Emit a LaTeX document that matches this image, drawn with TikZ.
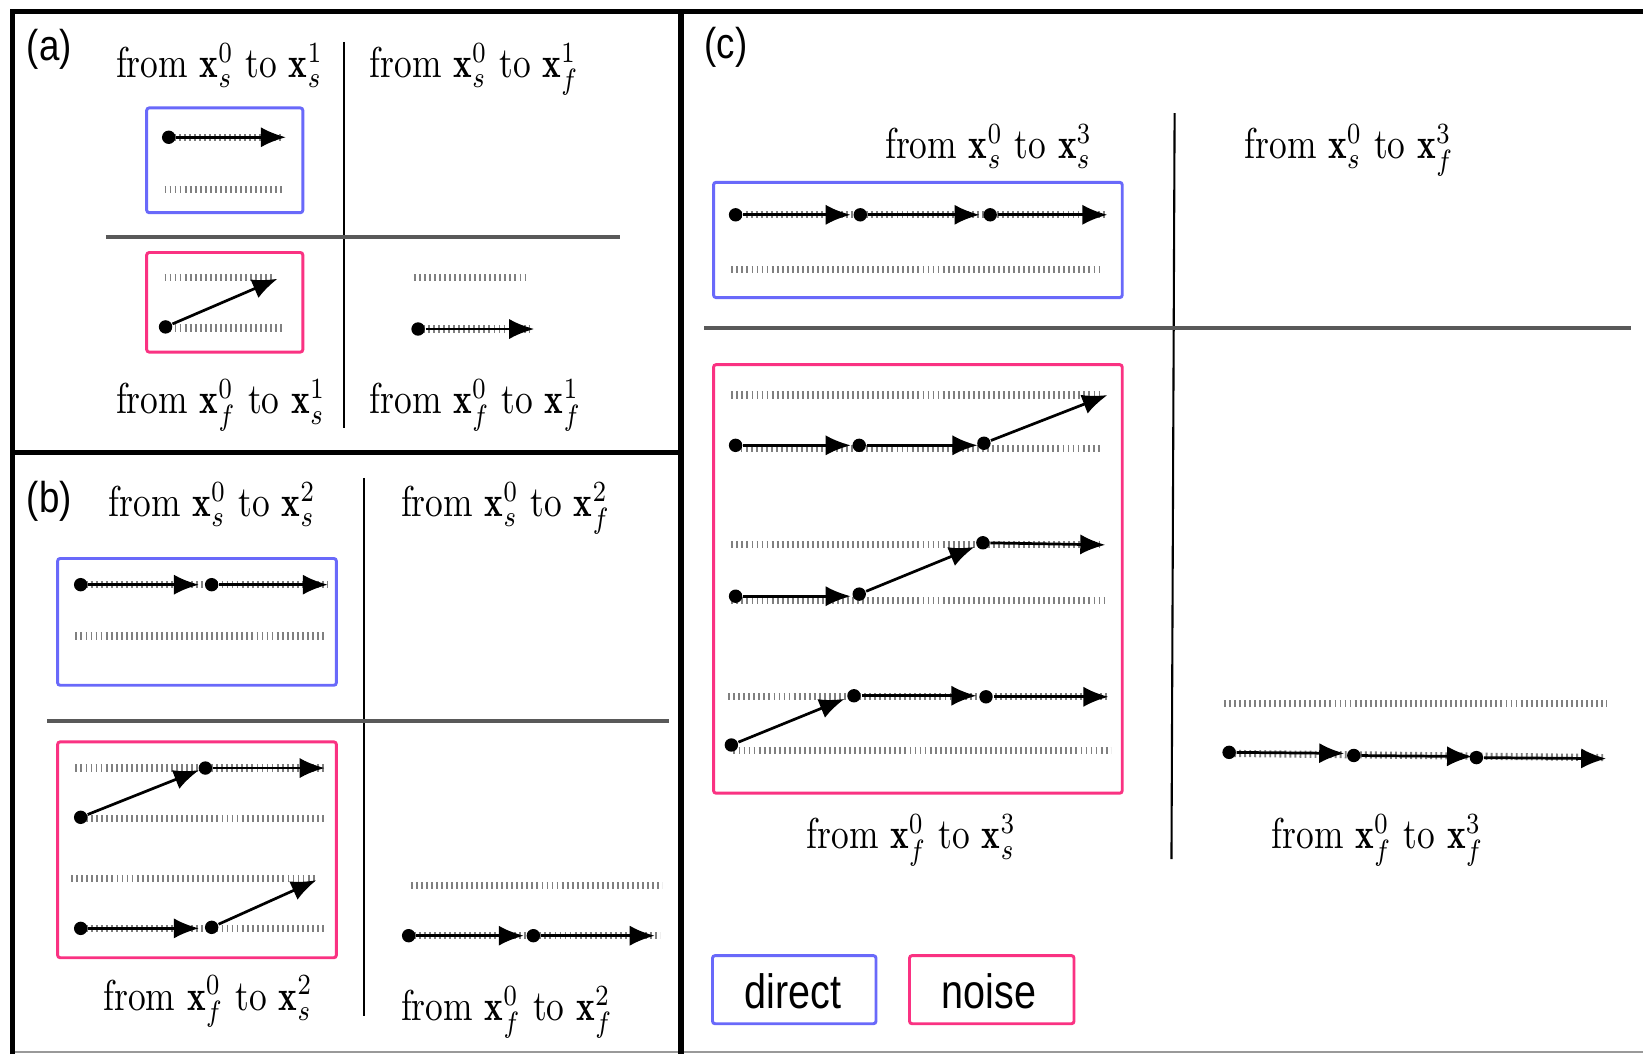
\documentclass[tikz,border=0pt]{standalone}
\usepackage{fontspec}
\usepackage{graphicx}
\usetikzlibrary{arrows.meta}
\newfontfamily\lsans{Liberation Sans}
\definecolor{dblue}{RGB}{105,105,250}
\definecolor{dpink}{RGB}{250,50,130}
\newcommand{\fromto}[3]{\scalebox{0.82}[1]{from $\mathbf{x}_{#1}^{0}$ to $\mathbf{x}_{#3}^{#2}$}}
\newcommand{\trseg}[3]{\node[dot] (#1) at (#2) {}; \coordinate (#1t) at (#3); \draw[arr] (#1) -- (#1t);}
\newcommand{\tickln}[2]{\draw[tickline] (#1) -- (#2);}
\begin{document}
\begin{tikzpicture}[x=0.25pt,y=-0.25pt,
  frame/.style={line width=1.25pt,black},
  divv/.style={line width=0.5pt,black},
  divh/.style={line width=0.85pt,black!65},
  bluebox/.style={draw=dblue,line width=0.7pt,rounded corners=0.6pt},
  pinkbox/.style={draw=dpink,line width=0.7pt,rounded corners=0.6pt},
  tickline/.style={draw=black!50,line width=1.7pt,dash pattern=on 0.45pt off 0.75pt},
  dot/.style={circle,fill=black,inner sep=0pt,minimum size=3.2pt},
  arr/.style={line width=0.65pt,-{Latex[length=6pt,width=4.8pt]}},
  lab/.style={inner sep=0pt,anchor=base west,font=\fontsize{10.3}{12}\selectfont},
  plabel/.style={inner sep=0pt,font=\lsans\fontsize{10.3}{12}\selectfont},
  legtext/.style={inner sep=0pt,font=\lsans\fontsize{11.5}{13}\selectfont}]
\useasboundingbox (0,0) rectangle (1568,1006);
\fill[white] (0,0) rectangle (1568,1006);
% frame
\draw[black!40,line width=0.5pt] (12,1004) -- (1568,1004);
\draw[frame] (12,1006) -- (12,11) -- (1568,11);
\draw[frame] (650,11) -- (650,1006);
\draw[frame] (12,432) -- (650,432);
% ---------- (a)
\node[plabel] (la) at (47,47) {\scalebox{0.85}[1]{(a)}};
\draw[divv] (328,40) -- (328,408);
\draw[divh] (101,226) -- (592,226);
\node[lab] (a1) at (110,74) {\fromto{s}{1}{s}};
\node[lab] (a2) at (352,74) {\fromto{s}{1}{f}};
\node[lab] (a3) at (110,395) {\fromto{f}{1}{s}};
\node[lab] (a4) at (352,395) {\fromto{f}{1}{f}};
\draw[bluebox] (140,103) rectangle (289,203);
\tickln{161,131}{270,131}
\tickln{157,181}{270,181}
\trseg{aa}{161,131}{273,131}
\draw[pinkbox] (140,241) rectangle (289,336);
\tickln{157,265}{262,265}
\tickln{157,313}{270,313}
\trseg{ab}{158,312}{265,266}
\tickln{395,265}{501,265}
\tickln{399,314}{505,314}
\trseg{ac}{399,314}{510,314}
% ---------- (b)
\node[plabel] (lb) at (47,478) {\scalebox{0.85}[1]{(b)}};
\draw[divv] (347,456) -- (347,970);
\draw[divh] (45,688) -- (638,688);
\node[lab] (b1) at (103,493) {\fromto{s}{2}{s}};
\node[lab] (b2) at (382,493) {\fromto{s}{2}{f}};
\node[lab] (b3) at (98,964) {\fromto{f}{2}{s}};
\node[lab] (b4) at (382,974) {\fromto{f}{2}{f}};
\draw[bluebox] (55,533) rectangle (321,654);
\tickln{77,558}{313,558}
\tickln{72,607}{310,607}
\trseg{ba}{77,558}{190,558}
\trseg{bb}{202,558}{313,558}
\draw[pinkbox] (55,708) rectangle (321,914);
\tickln{72,733}{310,733}
\tickln{77,781}{310,781}
\tickln{68,838}{303,838}
\tickln{77,886}{310,886}
\trseg{bc}{77,780}{190,735}
\trseg{bd}{196,733}{310,733}
\trseg{be}{77,886}{190,886}
\trseg{bf}{202,885}{302,840}
\tickln{392,845}{632,845}
\tickln{390,893}{630,893}
\trseg{bg}{390,893}{500,893}
\trseg{bh}{509,893}{625,893}
% ---------- (c)
\node[plabel] (lc) at (693,45) {\scalebox{0.85}[1]{(c)}};
\draw[divv] (1121,108) -- (1118,820);
\draw[divh] (672,313) -- (1557,313);
\node[lab] (c1) at (844,151) {\fromto{s}{3}{s}};
\node[lab] (c2) at (1187,151) {\fromto{s}{3}{f}};
\node[lab] (c3) at (769,810) {\fromto{f}{3}{s}};
\node[lab] (c4) at (1213,810) {\fromto{f}{3}{f}};
\draw[bluebox] (681,174) rectangle (1071,284);
\tickln{702,205}{1055,205}
\tickln{698,257}{1052,257}
\trseg{ca}{702,205}{812,205}
\trseg{cb}{821,205}{935,205}
\trseg{cc}{945,205}{1057,205}
\draw[pinkbox] (681,348) rectangle (1071,757);
\tickln{698,377}{1052,377}
\tickln{702,428}{1050,428}
\trseg{cd}{702,425}{812,425}
\trseg{ce}{820,425}{933,425}
\trseg{cf}{939,423}{1057,377}
\tickln{698,520}{1052,520}
\tickln{698,573}{1055,573}
\trseg{cg}{702,569}{812,569}
\trseg{ch}{820,567}{930,522}
\trseg{ci}{938,518}{1055,520}
\tickln{695,665}{1058,665}
\tickln{700,716}{1060,716}
\trseg{cj}{698,711}{806,667}
\trseg{ck}{815,664}{932,664}
\trseg{cl}{941,665}{1058,665}
\tickln{1168,671}{1533,671}
\tickln{1173,719}{1530,723}
\trseg{cm}{1173,718}{1283,719}
\trseg{cn}{1292,721}{1405,722}
\trseg{co}{1409,723}{1533,724}
% legend
\node[draw=dblue,line width=0.7pt,rounded corners=0.6pt,minimum width=39pt,minimum height=16.25pt,inner sep=0pt] (kd) at (758,944.5) {};
\node[draw=dpink,line width=0.7pt,rounded corners=0.6pt,minimum width=39.25pt,minimum height=16.25pt,inner sep=0pt] (kn) at (946.5,944.5) {};
\node[legtext] (td) at (757,946) {\scalebox{0.82}[1]{direct}};
\node[legtext] (tn) at (944,946) {\scalebox{0.82}[1]{noise}};
\end{tikzpicture}
\end{document}
